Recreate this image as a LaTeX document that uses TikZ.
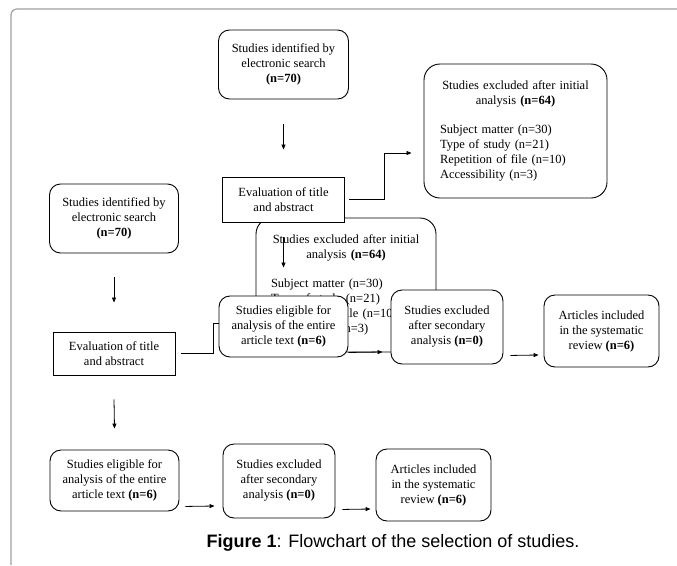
\documentclass[tikz,border=0pt]{standalone}
\usepackage{fontspec}
\setmainfont{Liberation Serif}
\newfontfamily\capfont{Liberation Sans}
\usetikzlibrary{arrows.meta}

\newcommand{\boxfont}{\fontsize{12.5}{15}\selectfont}

\begin{document}
\begin{tikzpicture}[x=1pt,y=-1pt,
	plainbox/.style={draw=black,fill=white,line width=0.9pt,inner sep=0pt,font=\boxfont},
	rbox/.style={plainbox,rounded corners=11pt,align=center},
	sbox/.style={plainbox,align=center},
	listbox/.style={plainbox,rounded corners=16pt,minimum height=134pt},
	arr/.style={-{Triangle[length=5pt,width=4pt]},line width=0.8pt},
	link/.style={line width=0.8pt}]
						\useasboundingbox (0,0) rectangle (677,565);
						\draw [gray!75,line width=1.2pt,rounded corners=6pt] (11,565) -- (11,9) -- (677,9);
						% lower copy of the list box sits under the other boxes
						\node [listbox,text width=150pt,inner xsep=15pt] (exclb) at (346,285) {{\centering Studies excluded after initial\\ analysis \textbf{(n=64)}\par}\vspace{14pt}{\raggedright Subject matter (n=30)\\ Type of study (n=21)\\ Repetition of file (n=10)\\ Accessibility (n=3)\par}};
						% upper flowchart
						\node [rbox,minimum width=130pt,minimum height=69pt] (identa) at (283.5,64.5) {Studies identified by\\ electronic search\\ \textbf{(n=70)}};
						\node [sbox,minimum width=122pt,minimum height=45pt] (evala) at (283.5,199.5) {Evaluation of title\\ and abstract};
						\node [listbox,text width=151pt,inner xsep=16pt] (excla) at (515.5,131) {{\centering Studies excluded after initial\\ analysis \textbf{(n=64)}\par}\vspace{14pt}{\raggedright Subject matter (n=30)\\ Type of study (n=21)\\ Repetition of file (n=10)\\ Accessibility (n=3)\par}};
						\node [rbox,minimum width=129pt,minimum height=61pt] (eliga) at (283.5,326.5) {Studies eligible for\\ analysis of the entire\\ article text \textbf{(n=6)}};
						\node [rbox,minimum width=112pt,minimum height=74pt] (seconda) at (447,327) {Studies excluded\\ after secondary\\ analysis \textbf{(n=0)}};
						\node [rbox,minimum width=115pt,minimum height=72pt] (incla) at (601.5,331) {Articles included\\ in the systematic\\ review \textbf{(n=6)}};
						% lower flowchart
						\node [rbox,minimum width=129pt,minimum height=69pt] (identb) at (114,218.5) {Studies identified by\\ electronic search\\ \textbf{(n=70)}};
						\node [sbox,minimum width=122pt,minimum height=43pt] (evalb) at (114,353.5) {Evaluation of title\\ and abstract};
						\node [rbox,minimum width=129pt,minimum height=61pt] (eligb) at (114.5,480.5) {Studies eligible for\\ analysis of the entire\\ article text \textbf{(n=6)}};
						\node [rbox,minimum width=112pt,minimum height=74pt] (secondb) at (279,481) {Studies excluded\\ after secondary\\ analysis \textbf{(n=0)}};
						\node [rbox,minimum width=115pt,minimum height=72pt] (inclb) at (433.5,485) {Articles included\\ in the systematic\\ review \textbf{(n=6)}};
						\node [font=\capfont\fontsize{18}{20}\selectfont] (caption) at (393,543) {\textbf{Figure 1}: Flowchart of the selection of studies.};
						% connectors, upper
						\draw [arr] ([yshift=-25pt]identa.south) -- ([yshift=27pt]evala.north);
						\draw [arr] ([xshift=4pt]evala.east) -- ++(35,0) |- ([xshift=-12pt,yshift=-22pt]excla.west);
						\draw [arr] ([yshift=-15pt]evala.south) -- ([yshift=28pt]eliga.north);
						\draw [arr] ([yshift=5pt]eliga.south east) -- ([xshift=-8pt,yshift=-25pt]seconda.west);
						\draw [arr] ([xshift=7pt,yshift=9pt]seconda.south east) -- ([xshift=-5pt,yshift=-24pt]incla.west);
						% connectors, lower
						\draw [arr] ([yshift=-24pt]identb.south) -- ([yshift=29pt]evalb.north);
						\draw [link] ([xshift=6pt]evalb.east) -- ++(32,0) |- ([yshift=3pt]eliga.west);
						\draw [arr] ([yshift=-24pt]evalb.south) -- ([yshift=21pt]eligb.north);
						\draw [arr] ([xshift=6pt,yshift=5pt]eligb.south east) -- ([xshift=-8pt,yshift=-25pt]secondb.west);
						\draw [arr] ([xshift=7pt,yshift=9pt]secondb.south east) -- ([xshift=-5pt,yshift=-24pt]inclb.west);
					\end{tikzpicture}
\end{document}
